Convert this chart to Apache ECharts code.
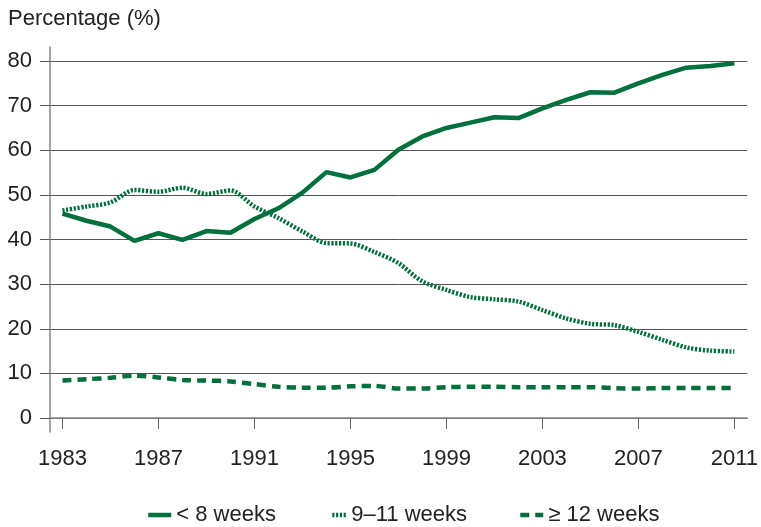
<!DOCTYPE html>
<html>
<head>
<meta charset="utf-8">
<script src="https://cdn.jsdelivr.net/npm/echarts@6/dist/echarts.min.js"></script>
<style>
html, body { margin: 0; padding: 0; background: #fff; }
#chart { width: 761px; height: 527px; }
</style>
</head>
<body>
<div id="chart"></div>
<script>
// values
var years = [1983, 1984, 1985, 1986, 1987, 1988, 1989, 1990, 1991, 1992,
  1993, 1994, 1995, 1996, 1997, 1998, 1999, 2000, 2001, 2002,
  2003, 2004, 2005, 2006, 2007, 2008, 2009, 2010, 2011]
var under8 = [45.8, 44.2, 42.9, 39.7, 41.4, 39.9, 41.9, 41.5, 44.6, 47.0,
  50.5, 55.1, 53.9, 55.6, 60.1, 63.1, 65.0, 66.2, 67.4, 67.2,
  69.4, 71.3, 73.0, 72.9, 75.0, 76.9, 78.5, 78.9, 79.5]
var weeks9to11 = [46.5, 47.4, 48.3, 51.1, 50.7, 51.6, 50.2, 51.0, 47.4, 44.8,
  41.8, 39.2, 39.1, 37.2, 34.7, 30.6, 28.7, 27.1, 26.6, 26.1,
  24.2, 22.3, 21.1, 20.8, 19.3, 17.5, 15.8, 15.1, 14.9]
var over12 = [8.4, 8.7, 9.0, 9.5, 9.1, 8.5, 8.4, 8.2, 7.6, 7.0,
  6.8, 6.8, 7.1, 7.2, 6.6, 6.6, 6.9, 7.0, 7.0, 6.9,
  6.9, 6.9, 6.9, 6.7, 6.6, 6.7, 6.7, 6.7, 6.7]
var yearTicks = [1983, 1987, 1991, 1995, 1999, 2003, 2007, 2011]
var yTicks = [0, 10, 20, 30, 40, 50, 60, 70, 80]
var names = ['< 8 weeks', '9–11 weeks', '≥ 12 weeks']

var green = '#00703c'
var font = '"Liberation Sans", Arial, sans-serif'
var txt = '#222'

function pairs (vals) {
  return years.map(function (y, i) { return [y, vals[i]] })
}

var chart = echarts.init(document.getElementById('chart'))
var legendBase = {
  top: 504,
  itemHeight: 4,
  padding: 0,
  itemStyle: { opacity: 0 },
  lineStyle: { width: 4.5 },
  textStyle: { fontSize: 22, color: txt, fontFamily: font }
}
chart.setOption({
  animation: false,
  title: {
    text: 'Percentage (%)',
    left: 3,
    top: 3,
    textStyle: { fontSize: 22, fontWeight: 'normal', color: txt, fontFamily: font }
  },
  legend: [
    Object.assign({}, legendBase, { left: 146, itemWidth: 23, data: [names[0]] }),
    Object.assign({}, legendBase, { left: 330, itemWidth: 14, data: [names[1]] }),
    Object.assign({}, legendBase, { left: 518, itemWidth: 23, data: [names[2]] })
  ],
  grid: {
    left: 50,
    right: 13,
    top: 47,
    bottom: 95,
    containLabel: false
  },
  xAxis: {
    type: 'value',
    min: 1982.48,
    max: 2011.54,
    splitLine: { show: false },
    axisLine: { show: true, lineStyle: { color: '#888', width: 1.5 } },
    axisTick: { show: true, customValues: yearTicks, length: 11, lineStyle: { color: '#666' } },
    axisLabel: {
      customValues: yearTicks,
      margin: 16,
      fontSize: 22,
      color: txt,
      fontFamily: font,
      formatter: function (v) { return String(v) }
    }
  },
  yAxis: {
    type: 'value',
    min: -3.137,
    max: 83.137,
    axisLine: { show: true, lineStyle: { color: '#888', width: 1.5 } },
    axisTick: { show: true, customValues: yTicks, length: 10, lineStyle: { color: '#555' } },
    axisLabel: {
      customValues: yTicks,
      margin: 18,
      fontSize: 22,
      color: txt,
      fontFamily: font
    },
    splitLine: { show: true, lineStyle: { color: '#555', width: 1 } }
  },
  series: [{
    name: names[0],
    type: 'line',
    data: pairs(under8),
    symbol: 'none',
    lineStyle: { color: green, width: 4.5 },
    itemStyle: { color: green }
  }, {
    name: names[1],
    type: 'line',
    data: pairs(weeks9to11),
    symbol: 'none',
    smooth: 0.3,
    lineStyle: { color: green, width: 4.5, type: [2.2, 1.6], cap: 'butt' },
    itemStyle: { color: green }
  }, {
    name: names[2],
    type: 'line',
    data: pairs(over12),
    symbol: 'none',
    smooth: 0.3,
    lineStyle: { color: green, width: 4.5, type: [9, 6], cap: 'butt' },
    itemStyle: { color: green }
  }]
})
</script>
</body>
</html>
